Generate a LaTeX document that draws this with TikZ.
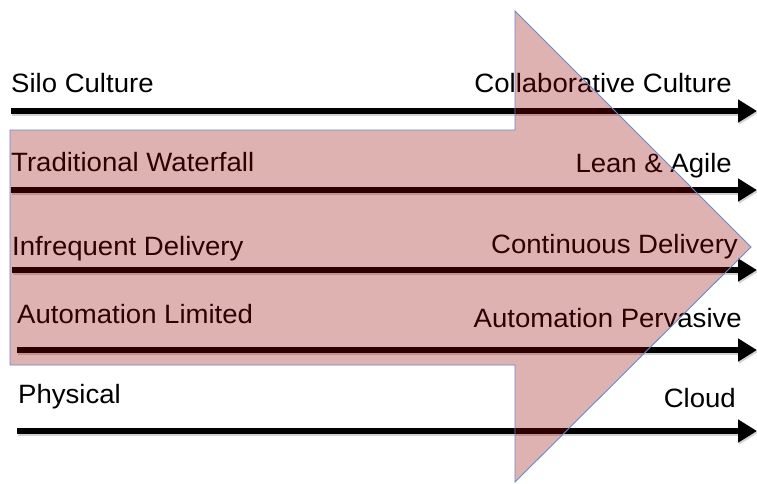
\documentclass[tikz,border=0pt]{standalone}
\usepackage{fontspec}
\setmainfont{Liberation Sans}[FakeStretch=1.04]
\usetikzlibrary{arrows.meta}
\definecolor{bigfill}{RGB}{150,0,0}
\definecolor{bigedge}{RGB}{100,140,200}
\tikzset{
  lbl/.style={inner sep=0pt, font=\fontsize{26.5}{31}\selectfont},
  lft/.style={lbl, anchor=base west},
  rgt/.style={lbl, anchor=base east},
  bar/.style={line width=6pt, -{Triangle[length=19pt,width=22pt]}},
  barshadow/.style={line width=6pt, draw=black!35, opacity=0.5, -{Triangle[length=19pt,width=22pt]}},
  bigarrow/.style={fill=bigfill, fill opacity=0.3, draw=bigedge, line width=0.9pt, line join=miter}
}
\begin{document}
\begin{tikzpicture}[x=1pt,y=-1pt]
\useasboundingbox (0,0) rectangle (757,483);
% coordinates of the bars
\coordinate (s1) at (11,111);  \coordinate (e1) at (757,111);
\coordinate (s2) at (11,190);  \coordinate (e2) at (757,190);
\coordinate (s3) at (12,270);  \coordinate (e3) at (757,270);
\coordinate (s4) at (17,350);  \coordinate (e4) at (757,350);
\coordinate (s5) at (17,431);  \coordinate (e5) at (757,431);
% shadows
\foreach \i in {1,...,5}{
  \draw[barshadow] ([shift={(1,2)}]s\i) -- ([shift={(1,2)}]e\i);
}
% bars
\foreach \i in {1,...,5}{
  \draw[bar] (s\i) -- (e\i);
}
% labels
\node[lft] (silo) at (11,92) {Silo Culture};
\node[rgt] (collab) at (732,92) {Collaborative Culture};
\node[lft] (water) at (11,171) {Traditional Waterfall};
\node[rgt] (lean) at (732,172) {Lean \& Agile};
\node[lft] (infreq) at (12,255) {Infrequent Delivery};
\node[rgt] (contin) at (738,253) {Continuous Delivery};
\node[lft] (autolim) at (17,323) {Automation Limited};
\node[rgt] (autoperv) at (742,327) {Automation Pervasive};
\node[lft] (phys) at (18,403) {Physical};
\node[rgt] (cloud) at (736,407) {Cloud};
% big arrow
\draw[bigarrow] (10,130) -- (515,130) -- (515,11) -- (751,247) -- (515,482) -- (515,365) -- (10,365) -- cycle;
\end{tikzpicture}
\end{document}
